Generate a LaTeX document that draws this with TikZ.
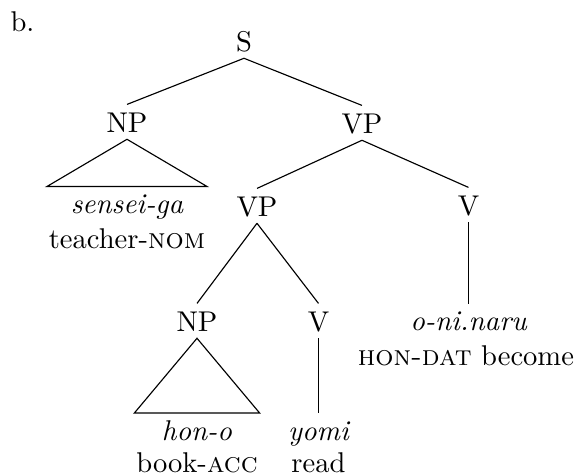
\documentclass[tikz,border=0pt]{standalone}
\usepackage{tikz}

\begin{document}
\begin{tikzpicture}[x=0.35pt,y=-0.35pt,
  cat/.style={anchor=base,inner sep=2pt,text height=7.8pt,text depth=0pt},
  word/.style={anchor=base,inner sep=2pt,text height=7.4pt,text depth=0pt,font=\itshape},
  gloss/.style={anchor=base,inner xsep=0.5pt,inner ysep=0pt},
  edge/.style={draw,line width=0.4pt}]
\useasboundingbox (0,0) rectangle (579,475);
\node[anchor=base west,inner sep=0pt] (lbl) at (10,32) {b.};
\node[cat] (s) at (244,52) {S};
\node[cat] (np) at (127,133) {NP};
\node[cat] (vp) at (362,134) {VP};
\node[word] (sg) at (127,214) {sensei-ga};
\node[gloss] (sgg) at (127,248.5) {teacher-\textsc{nom}};
\node[cat] (vpl) at (257,217) {VP};
\node[cat] (v) at (468.5,216) {V};
\node[cat] (npl) at (197,332) {NP};
\node[cat] (vl) at (318.5,332) {V};
\node[word] (onr) at (468.5,331) {o-ni.naru};
\node[gloss] (onrg) at (466,365.5) {\textsc{hon-dat} become};
\node[word] (ho) at (197,440.5) {hon-o};
\node[gloss] (hog) at (197,473) {book-\textsc{acc}};
\node[word] (yo) at (318.5,440.5) {yomi};
\node[gloss] (yog) at (318.5,473) {read};
\draw[edge] (s.south) -- (np.north);
\draw[edge] (s.south) -- (vp.north);
\draw[edge] (np.south) -- (sgg.west |- sg.north) -- (sgg.east |- sg.north) -- cycle;
\draw[edge] (vp.south) -- (vpl.north);
\draw[edge] (vp.south) -- (v.north);
\draw[edge] (v.south) -- (onr.north);
\draw[edge] (vpl.south) -- (npl.north);
\draw[edge] (vpl.south) -- (vl.north);
\draw[edge] (npl.south) -- (hog.west |- ho.north) -- (hog.east |- ho.north) -- cycle;
\draw[edge] (vl.south) -- (yo.north);
\end{tikzpicture}
\end{document}
